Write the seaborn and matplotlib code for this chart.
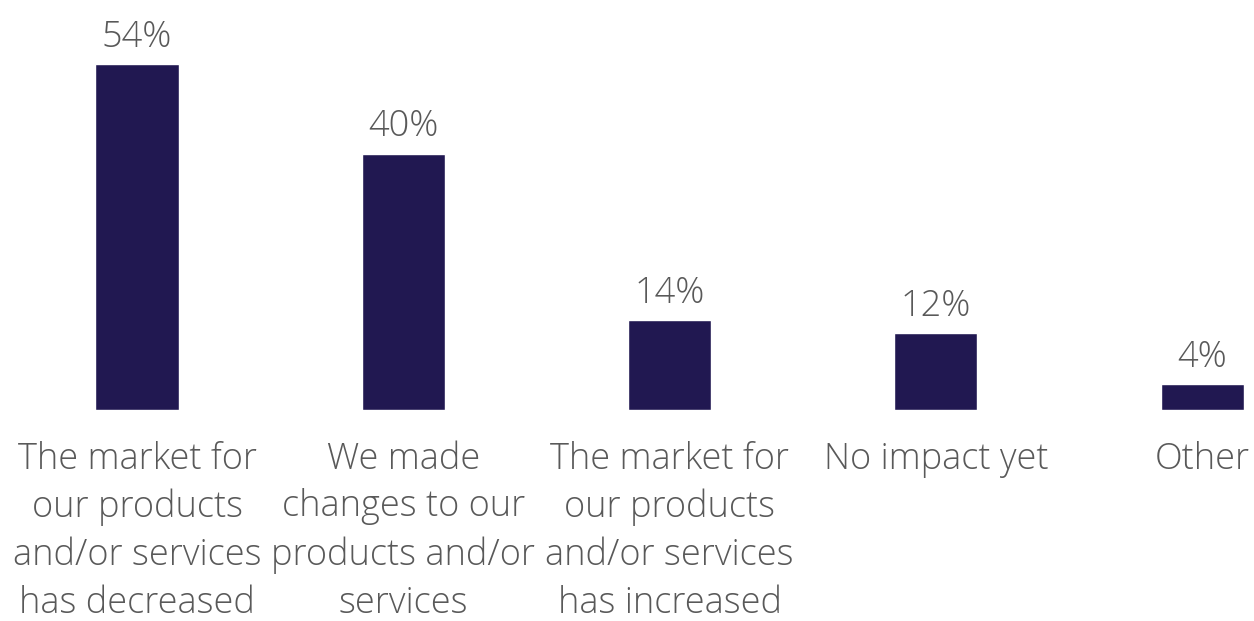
import matplotlib
matplotlib.use("Agg")
import matplotlib.pyplot as plt
import seaborn as sns
import pandas as pd

categories = [
    "The market for\nour products\nand/or services\nhas decreased",
    "We made\nchanges to our\nproducts and/or\nservices",
    "The market for\nour products\nand/or services\nhas increased",
    "No impact yet",
    "Other",
]
values = [54, 40, 14, 12, 4]
value_labels = ["54%", "40%", "14%", "12%", "4%"]

bar_color = "#211851"
text_color = "#595959"

sns.set_theme(style="white")
plt.rcParams["font.family"] = ["Open Sans", "DejaVu Sans"]
plt.rcParams["font.weight"] = "light"

df = pd.DataFrame({"category": categories, "value": values})

fig = plt.figure(figsize=(12.54, 6.21), dpi=100)
ax = fig.add_axes([0, 1 - 410 / 621, 1, 410 / 621])

sns.barplot(data=df, x="category", y="value", color=bar_color,
            saturation=1, width=0.312, ax=ax)

ax.set_xlim(-0.5146, 4.195)
ax.set_ylim(0, 64)

for patch, lab in zip(ax.patches, value_labels):
    ax.annotate(lab, (patch.get_x() + patch.get_width() / 2, patch.get_height()),
                xytext=(0, 6), textcoords="offset points",
                ha="center", va="bottom", fontsize=26, color=text_color,
                fontweight="light")

ax.set_xlabel("")
ax.set_ylabel("")
ax.set_yticks([])
ax.tick_params(axis="x", length=0, pad=22)
for t in ax.get_xticklabels():
    t.set_fontsize(26)
    t.set_color(text_color)
    t.set_fontweight("light")
    t.set_linespacing(1.39)
    t.set_verticalalignment("top")
for s in ax.spines.values():
    s.set_visible(False)

fig.savefig("out.png", dpi=100, facecolor="white")
